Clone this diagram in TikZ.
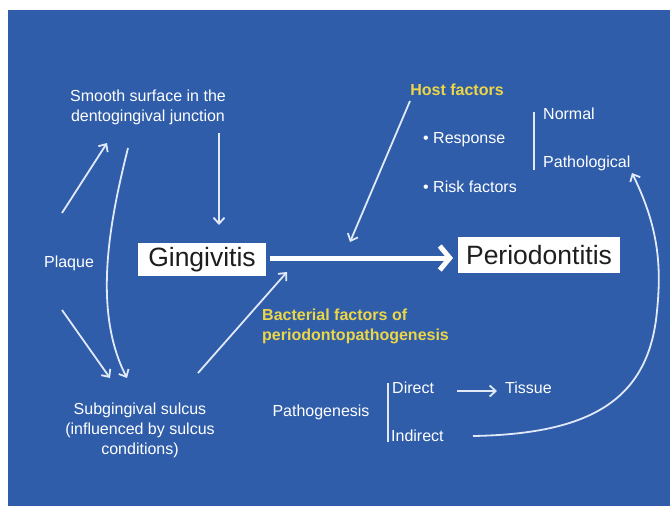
\documentclass[tikz,border=0pt]{standalone}
\usepackage{fontspec}
\setmainfont{Liberation Sans}
\usetikzlibrary{arrows.meta}
\definecolor{bgblue}{RGB}{47,93,170}
\definecolor{linecol}{RGB}{225,233,248}
\definecolor{yel}{RGB}{236,214,72}
\definecolor{boxtext}{RGB}{30,30,30}
\begin{document}
\begin{tikzpicture}[x=1pt,y=-1pt,
  wtext/.style={text=white,font=\fontsize{16}{20}\selectfont,inner sep=0pt},
  ytext/.style={text=yel,font=\fontsize{16}{20}\selectfont\bfseries,inner sep=0pt},
  bigbox/.style={fill=white,text=boxtext,font=\fontsize{26.5}{30}\selectfont,inner sep=0pt},
  conn/.style={draw=linecol,line width=1.8pt,-{Straight Barb[length=6pt,width=11pt,line width=1.8pt]}},
  mainarrow/.style={draw=white,line width=5pt,-{Straight Barb[length=10pt,width=24pt,line width=5pt]}},
  bracket/.style={draw=linecol,line width=1.8pt}
]
\useasboundingbox (0,0) rectangle (670,506);
\fill[white] (0,0) rectangle (670,506);
\fill[bgblue] (8,10) rectangle (670,506);

% nodes
\node[wtext,align=center] (smooth) at (148,107) {Smooth surface in the\\dentogingival junction};
\node[wtext] (plaque) at (69,263) {Plaque};
\node[bigbox,minimum width=128pt,minimum height=33pt] (ging) at (202,259.5) {Gingivitis};
\node[bigbox,minimum width=162pt,minimum height=36pt] (perio) at (539,255) {Periodontitis};
\node[ytext] (host) at (457,90) {Host factors};
\node[wtext,anchor=west] (resp) at (423,140) {\textbullet\ Response};
\node[wtext,anchor=west] (risk) at (423,187) {\textbullet\ Risk factors};
\node[wtext,anchor=west] (normal) at (543,114) {Normal};
\node[wtext,anchor=west] (path) at (543,163) {Pathological};
\node[ytext,anchor=west,align=left] (bact) at (262,326) {Bacterial factors of\\periodontopathogenesis};
\node[wtext] (patho) at (321,412) {Pathogenesis};
\node[wtext,anchor=west] (direct) at (392,388) {Direct};
\node[wtext,anchor=west] (tissue) at (505,388) {Tissue};
\node[wtext,anchor=west] (indirect) at (391,436) {Indirect};
\node[wtext,align=center] (sub) at (140,430) {Subgingival sulcus\\(influenced by sulcus\\conditions)};

% connector end points
\coordinate (pu1) at (62,213);
\coordinate (pu2) at (107,143);
\coordinate (pd1) at (62,310);
\coordinate (pd2) at (110,378);
\coordinate (sc1) at (128,148);
\coordinate (sc2) at (127,378);
\coordinate (jd1) at (219,133);
\coordinate (jd2) at (219,225);
\coordinate (sg1) at (198,373);
\coordinate (sg2) at (287,272);
\coordinate (hf1) at (410,101);
\coordinate (hf2) at (350,242);
\coordinate (ma1) at (270,258);
\coordinate (ma2) at (453,258);
\coordinate (dt1) at (457,391);
\coordinate (dt2) at (497,391);
\coordinate (ip1) at (473,436);
\coordinate (ip2) at (632,173);
\coordinate (br1t) at (534,112);
\coordinate (br1b) at (534,170);
\coordinate (br2t) at (388,383);
\coordinate (br2b) at (388,442);

% connectors
\draw[conn] (pu1) -- (pu2);
\draw[conn] (pd1) -- (pd2);
\draw[conn] (sc1) .. controls (110,220) and (92,310) .. (sc2);
\draw[conn] (jd1) -- (jd2);
\draw[conn] (sg1) -- (sg2);
\draw[conn] (hf1) -- (hf2);
\draw[mainarrow] (ma1) -- (ma2);
\draw[conn] (dt1) -- (dt2);
\draw[conn] (ip1) .. controls (590,434) and (645,400) .. (656,320) .. controls (662,270) and (660,230) .. (ip2);
\draw[bracket] (br1t) -- (br1b);
\draw[bracket] (br2t) -- (br2b);
\end{tikzpicture}
\end{document}
